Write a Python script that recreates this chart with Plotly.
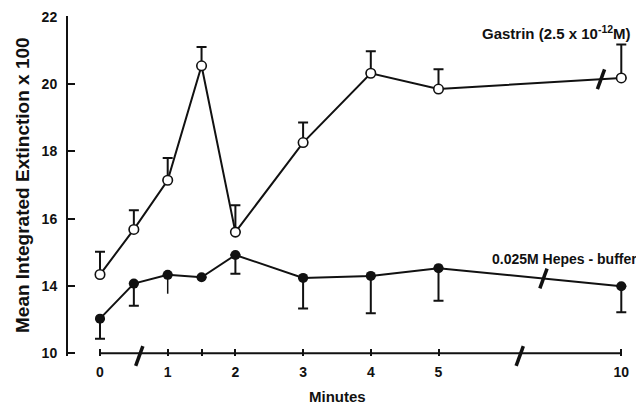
import numpy as np
import plotly.graph_objects as go

# ---- data ----
minutes = [0, 0.5, 1, 1.5, 2, 3, 4, 5, 10]
gastrin = [14.34, 15.68, 17.14, 20.54, 15.60, 18.26, 20.32, 19.85, 20.18]
gastrin_err = [0.68, 0.57, 0.66, 0.56, 0.80, 0.60, 0.65, 0.59, 0.99]
hepes = [13.03, 14.07, 14.33, 14.26, 14.92, 14.24, 14.30, 14.53, 13.99]
hepes_err = [0.60, 0.66, 0.56, 0.0, 0.56, 0.91, 1.11, 0.97, 0.77]
hepes_err_capped = [True, True, False, False, True, True, True, True, True]

x_tick_minutes = [0, 1, 2, 3, 4, 5, 10]
x_tick_text = ["0", "1", "2", "3", "4", "5", "10"]
x_minor_tick_minutes = [1.5]
y_tick_vals = [12, 14, 16, 18, 20, 22]
y_tick_text = ["10", "14", "16", "18", "20", "22"]

gastrin_label = "Gastrin (2.5 x 10<sup>-12</sup>M)"
hepes_label = "0.025M Hepes - buffer"
x_title = "Minutes"
y_title = "Mean Integrated Extinction x 100"

# broken time axis: 5 -> 10 min compressed
break_in = [0, 5, 10]
break_out = [0, 5, 7.7]


def pos(m):
    return np.interp(m, break_in, break_out)


xp = pos(minutes)
FONT = "Liberation Sans"
BLACK = "#111111"

# page body has an 8px default margin; lay the figure out so that
# the plot lands at the reference pixel positions
OFF = 8
W, H = 644 - OFF, 405 - OFF
PL, PR, PT, PB = 68, 630, 16, 356        # plot area in reference pixels
PW, PH = PR - PL, PB - PT


def px_x(x):
    return (x - PL) / PW


def px_y(y):
    return (PB - y) / PH


fig = go.Figure()

# Gastrin (open circles, upward error bars)
fig.add_trace(go.Scatter(
    x=xp, y=gastrin, mode="lines+markers",
    line=dict(color=BLACK, width=2),
    marker=dict(symbol="circle", size=9.5, color="white", line=dict(color=BLACK, width=1.6)),
    error_y=dict(type="data", array=gastrin_err, arrayminus=[0] * len(gastrin),
                 symmetric=False, color=BLACK, thickness=2, width=5),
    showlegend=False, cliponaxis=False))

# Hepes buffer (filled circles, downward error bars)
capped = [e if c else 0 for e, c in zip(hepes_err, hepes_err_capped)]
capless = [0 if c else e for e, c in zip(hepes_err, hepes_err_capped)]
fig.add_trace(go.Scatter(
    x=xp, y=hepes, mode="markers", marker=dict(size=1, color="rgba(0,0,0,0)"),
    error_y=dict(type="data", array=[0] * len(hepes), arrayminus=capless,
                 symmetric=False, color=BLACK, thickness=1.5, width=0),
    showlegend=False, hoverinfo="skip"))
fig.add_trace(go.Scatter(
    x=xp, y=hepes, mode="lines+markers",
    line=dict(color=BLACK, width=2),
    marker=dict(symbol="circle", size=10, color=BLACK),
    error_y=dict(type="data", array=[0] * len(hepes), arrayminus=capped,
                 symmetric=False, color=BLACK, thickness=2, width=5),
    showlegend=False, cliponaxis=False))

# break marks on the lines and on the time axis
line_breaks_x = [7.40, 6.55]
line_breaks_y = [float(np.interp(7.40, xp, gastrin)), float(np.interp(6.55, xp, hepes))]
axis_breaks_x = [0.58, 6.2]
fig.add_trace(go.Scatter(
    x=line_breaks_x + axis_breaks_x,
    y=line_breaks_y + [11.92, 11.92],
    mode="markers",
    marker=dict(symbol="line-ns", size=15, angle=20, line=dict(color=BLACK, width=3.5)),
    showlegend=False, hoverinfo="skip", cliponaxis=False))

# x axis line (offset from the y axis)
fig.add_shape(type="line", xref="x", yref="y", x0=0, x1=float(pos(10)), y0=12, y1=12,
              line=dict(color=BLACK, width=2), layer="below")

fig.update_layout(
    width=W, height=H,
    margin=dict(l=PL - OFF, r=W - (PR - OFF), t=PT - OFF, b=H - (PB - OFF)),
    paper_bgcolor="white", plot_bgcolor="white",
    font=dict(family=FONT, color=BLACK, size=14, weight="bold"),
    xaxis=dict(range=[-32 / 67.7, -32 / 67.7 + PW / 67.7], showgrid=False,
               zeroline=False, showline=False, automargin=False,
               tickmode="array", tickvals=[float(v) for v in pos(x_tick_minutes)],
               ticktext=x_tick_text,
               ticks="inside", ticklen=7, tickwidth=2, tickcolor=BLACK,
               ticklabelstandoff=6, tickfont=dict(size=14, weight="bold"),
               minor=dict(tickmode="array", tickvals=[float(v) for v in pos(x_minor_tick_minutes)],
                          ticks="inside", ticklen=7, tickwidth=2, tickcolor=BLACK,
                          showgrid=False)),
    yaxis=dict(range=[11.92, 22.02], showgrid=False, zeroline=False, showline=True,
               automargin=False, linecolor=BLACK, linewidth=2,
               tickmode="array", tickvals=y_tick_vals, ticktext=y_tick_text,
               ticks="inside", ticklen=7, tickwidth=2, tickcolor=BLACK,
               ticklabelstandoff=6, tickfont=dict(size=14, weight="bold")),
    annotations=[
        dict(text=gastrin_label, xref="paper", yref="paper", x=px_x(633), y=px_y(32),
             xanchor="right", yanchor="middle", showarrow=False,
             font=dict(size=15, weight="bold")),
        dict(text=hepes_label, xref="paper", yref="paper", x=px_x(639), y=px_y(259),
             xanchor="right", yanchor="middle", showarrow=False,
             font=dict(size=14, weight="bold")),
        dict(text=x_title, xref="paper", yref="paper", x=px_x(337), y=px_y(396),
             xanchor="center", yanchor="middle", showarrow=False,
             font=dict(size=15, weight="bold")),
        dict(text=y_title, xref="paper", yref="paper", x=px_x(22), y=px_y(185),
             xanchor="center", yanchor="middle", showarrow=False, textangle=-90,
             font=dict(size=19, weight="bold")),
    ],
)

fig.write_html("out.html")
